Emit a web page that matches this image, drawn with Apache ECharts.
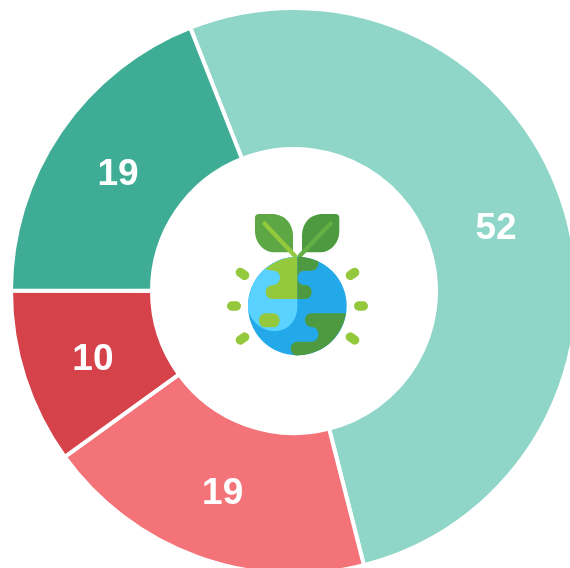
<!DOCTYPE html>
<html>
<head>
<meta charset="utf-8">
<style>html,body{margin:0;padding:0;background:#fff}#c{width:570px;height:568px}</style>
<script src="https://cdn.jsdelivr.net/npm/echarts@6/dist/echarts.min.js"></script>
</head>
<body>
<div id="c"></div>
<script>
var values = [52, 19, 10, 19];
var colors = ['#8fd6c8', '#f47378', '#d64249', '#3fad96'];
var labelShift = [[-3, 4], [2, 0], [4, 3], [2, 5]];
var chart = echarts.init(document.getElementById('c'), null, {renderer: 'canvas'});

var pathCount = 0;
function pathEl(d, fill) {
  var name = 'iconPath' + (pathCount++);
  echarts.graphic.registerShape(name, echarts.graphic.extendPath(d, {}));
  return {type: name, style: {fill: fill}};
}
function lineEl(x1, y1, x2, y2, w, col) {
  return {type: 'line', shape: {x1: x1, y1: y1, x2: x2, y2: y2}, style: {stroke: col, lineWidth: w, lineCap: 'round'}};
}
var lime = '#94c93d', dark = '#4e9a41', mid = '#5da845';
var icon = [
  pathEl('M132 42 L170 42 C208 42 234 70 234 108 L234 157 L180 157 C145 157 120 128 120 92 L120 54 Q120 42 132 42 Z', mid),
  pathEl('M361 42 L323 42 C285 42 261 70 261 108 L261 157 L313 157 C348 157 373 128 373 92 L373 54 Q373 42 361 42 Z', dark),
  lineEl(149, 71, 240, 168, 13, lime),
  lineEl(346, 71, 254, 168, 13, '#64b045'),
  {type: 'circle', shape: {cx: 247, cy: 318, r: 148}, style: {fill: '#23a8e9'}},
  pathEl('M247 170 A148 148 0 0 0 100 335 C115 372 145 393 178 393 C220 393 247 360 247 320 Z', '#59d2ff'),
  pathEl('M150 208 A148 148 0 0 1 247 170 L247 297 L172 297 C160 297 152 287 152 276 C152 264 162 255 175 255 C187 255 195 243 195 232 C195 220 185 212 175 212 Z', lime),
  pathEl('M247 170 A148 148 0 0 1 310 184 C312 198 305 212 290 212 L268 212 C256 212 248 222 248 233 C248 245 256 255 268 255 L270 255 C282 255 290 265 290 276 C290 288 282 297 270 297 L247 297 Z', dark),
  pathEl('M393 340 L290 340 C278 340 270 350 270 360 C270 372 278 381 290 381 C302 381 310 391 310 402 C310 415 302 425 290 425 L248 425 C236 425 227 435 227 445 C227 455 232 462 240 466 A148 148 0 0 0 393 340 Z', dark),
  {type: 'rect', shape: {x: 132, y: 340, width: 62, height: 42, r: 20}, style: {fill: lime}},
  lineEl(76, 217, 89, 226, 28, lime),
  lineEl(50, 318, 64, 318, 28, lime),
  lineEl(76, 420, 89, 411, 28, lime),
  lineEl(406, 226, 419, 217, 28, lime),
  lineEl(431, 318, 445, 318, 28, lime),
  lineEl(406, 411, 419, 420, 28, lime)
];

chart.setOption({
  animation: false,
  backgroundColor: '#fff',
  graphic: [{type: 'group', x: 215, y: 200, scaleX: 1 / 3, scaleY: 1 / 3, silent: true, children: icon}],
  series: [{
    type: 'pie',
    center: [294, 291],
    radius: [142, 283],
    startAngle: 111.5,
    clockwise: true,
    silent: true,
    avoidLabelOverlap: false,
    itemStyle: {borderColor: '#fff', borderWidth: 4},
    label: {
      show: true, position: 'inside', formatter: '{c}', color: '#fff',
      fontFamily: '"Liberation Sans", Arial, sans-serif', fontWeight: 'bold', fontSize: 37,
      textBorderWidth: 0, textShadowBlur: 0
    },
    labelLine: {show: false},
    data: values.map(function (v, i) {
      return {value: v, itemStyle: {color: colors[i]}, label: {offset: labelShift[i]}};
    })
  }]
});
</script>
</body>
</html>
